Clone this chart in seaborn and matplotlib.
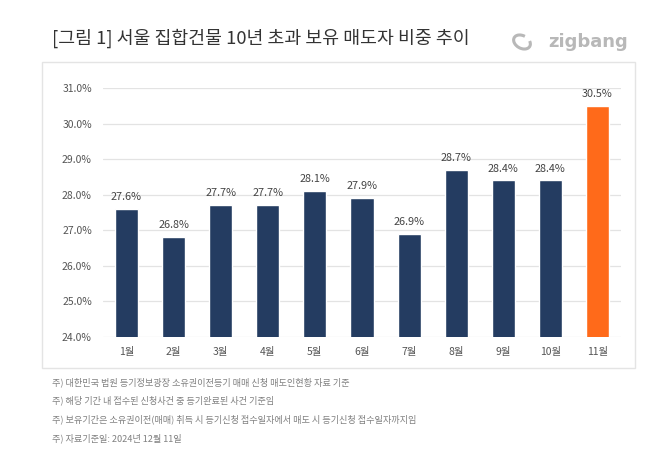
import pandas as pd
import matplotlib.pyplot as plt
import seaborn as sns
from matplotlib.patches import Rectangle, Arc

# 데이터
months = ['1월', '2월', '3월', '4월', '5월', '6월', '7월', '8월', '9월', '10월', '11월']
share = [27.6, 26.8, 27.7, 27.7, 28.1, 27.9, 26.9, 28.7, 28.4, 28.4, 30.5]
highlight = ['base'] * 10 + ['last']

title = '[그림 1] 서울 집합건물 10년 초과 보유 매도자 비중 추이'
notes = [
    '주) 대한민국 법원 등기정보광장 소유권이전등기 매매 신청 매도인현황 자료 기준',
    '주) 해당 기간 내 접수된 신청사건 중 등기완료된 사건 기준임',
    '주) 보유기간은 소유권이전(매매) 취득 시 등기신청 접수일자에서 매도 시 등기신청 접수일자까지임',
    '주) 자료기준일: 2024년 12월 11일',
]

df = pd.DataFrame({'month': months, 'share': share, 'kind': highlight})

sns.set_style('white')
plt.rcParams['font.family'] = ['Noto Sans CJK KR', 'DejaVu Sans']

fig = plt.figure(figsize=(6.58, 4.69), dpi=100)
ax = fig.add_axes([0.1565, 0.2814, 0.7873, 0.531])

sns.barplot(data=df, x='month', y='share', hue='kind',
            palette={'base': '#243c61', 'last': '#ff6a1a'}, saturation=1,
            width=0.49, dodge=False, legend=False, ax=ax)

ax.set_ylim(24, 31)
ax.set_xlim(-0.5, len(months) - 0.5)
ax.set_yticks(range(24, 32))
ax.set_yticklabels([f'{v:.1f}%' for v in range(24, 32)])
ax.yaxis.grid(True, color='#e3e3e3', linewidth=0.9)
ax.set_axisbelow(True)
for s in ax.spines.values():
    s.set_visible(False)
ax.tick_params(axis='both', length=0, labelsize=7.5, labelcolor='#555555')
ax.tick_params(axis='y', pad=8)
ax.tick_params(axis='x', pad=7)
ax.set_xlabel('')
ax.set_ylabel('')

for i, v in enumerate(share):
    ax.annotate(f'{v:.1f}%', (i, v), xytext=(0, 5), textcoords='offset points',
                ha='center', va='bottom', fontsize=7.8, color='#444444')

# 테두리 박스
fig.patches.append(Rectangle((42 / 658, 1 - 368 / 469), (635 - 42) / 658, (368 - 62) / 469,
                             transform=fig.transFigure, fill=False,
                             edgecolor='#e4e4e4', linewidth=1))

fig.text(52 / 658, 1 - 38 / 469, title, fontsize=13.2, color='#333333', va='center')

# zigbang 로고
fig.text(628 / 658, 1 - 42 / 469, 'zigbang', fontsize=13, color='#b8b8b8',
         fontweight='bold', ha='right', va='center', family=['DejaVu Sans'])
fig.patches.append(Arc((522 / 658, 1 - 42 / 469), 15 / 658, 15 / 469, angle=30,
                       theta1=40, theta2=340, transform=fig.transFigure,
                       edgecolor='#b8b8b8', linewidth=2.2))

for k, t in enumerate(notes):
    fig.text(52 / 658, 1 - (382 + k * 18.7) / 469, t, fontsize=6.6, color='#808080', va='center')

fig.savefig('out.png', dpi=100)
